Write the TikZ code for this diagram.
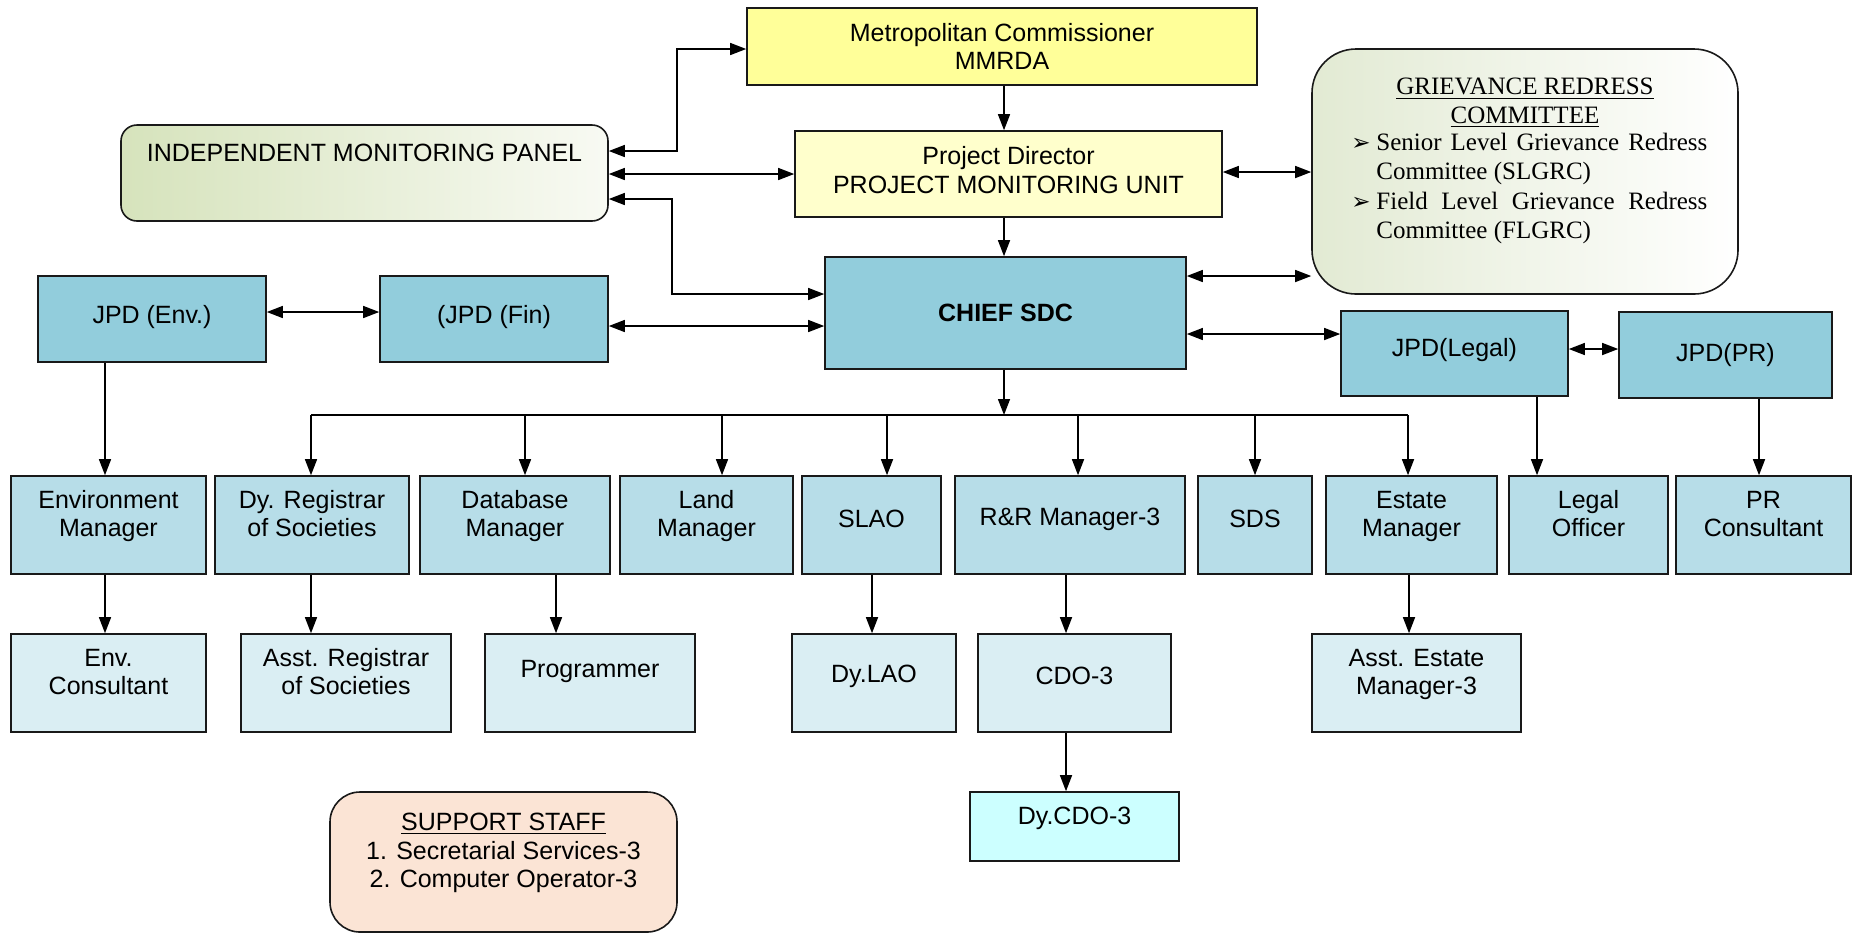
\documentclass[tikz,border=0pt]{standalone}
\usepackage{fontspec}
\setmainfont{Liberation Sans}
\newfontfamily\tnr{Liberation Serif}
\newfontfamily\djv{DejaVu Sans}
\usetikzlibrary{arrows.meta,fit}
\definecolor{mcY}{HTML}{FFFF99}
\definecolor{pdY}{HTML}{FFFFCC}
\definecolor{blA}{HTML}{92CDDC}
\definecolor{blB}{HTML}{B7DDE8}
\definecolor{blC}{HTML}{DAEEF3}
\definecolor{cyn}{HTML}{CCFFFF}
\definecolor{pch}{HTML}{FBE4D5}
\definecolor{gA}{HTML}{D6E3BC}
\definecolor{gB}{HTML}{F8FAF3}
\definecolor{gC}{HTML}{E2EAD3}
\tikzset{
  bx/.style={draw=black!90, line width=0.8pt, inner sep=0pt},
  tx/.style={align=center, font=\fontsize{12.5}{14.2}\selectfont, inner sep=0pt},
  ln/.style={line width=0.7pt},
  arr/.style={ln,-{Triangle[length=8pt,width=6pt]}},
  dbl/.style={ln,{Triangle[length=8pt,width=6pt]}-{Triangle[length=8pt,width=6pt]}},
  busln/.style={line width=1pt},
}
\newcommand\mkbox[6]{\node[bx,fill=#6,fit={(#2,#3)(#4,#5)}] (#1) {};}
\newcommand\grbul{\makebox[12.5pt][l]{\djv\fontsize{11.5}{11.5}\selectfont ➢}}
\begin{document}
\begin{tikzpicture}[x=0.5pt,y=-0.5pt]
\useasboundingbox (0,0) rectangle (1856,934);
% top boxes
\mkbox{mc}{747}{8}{1257}{85}{mcY}
\mkbox{pd}{795}{131}{1222}{217}{pdY}
\mkbox{chief}{825}{257}{1186}{369}{blA}
\node[bx,rounded corners=22pt,left color=gC,right color=white,fit={(1312,49)(1738,294)}] (grc) {};
\node[bx,rounded corners=8pt,left color=gA,right color=gB,fit={(121,125)(608,221)}] (imp) {};
\mkbox{jenv}{38}{276}{266}{362}{blA}
\mkbox{jfin}{380}{276}{608}{362}{blA}
\mkbox{jleg}{1341}{311}{1568}{396}{blA}
\mkbox{jpr}{1619}{312}{1832}{398}{blA}
% row 2
\mkbox{envm}{11}{476}{206}{574}{blB}
\mkbox{dyreg}{215}{476}{409}{574}{blB}
\mkbox{dbm}{420}{476}{610}{574}{blB}
\mkbox{landm}{620}{476}{793}{574}{blB}
\mkbox{slao}{802}{476}{941}{574}{blB}
\mkbox{rrm}{955}{476}{1185}{574}{blB}
\mkbox{sds}{1198}{476}{1312}{574}{blB}
\mkbox{estm}{1326}{476}{1497}{574}{blB}
\mkbox{legoff}{1509}{476}{1668}{574}{blB}
\mkbox{prcons}{1676}{476}{1851}{574}{blB}
% row 3
\mkbox{envc}{11}{634}{206}{732}{blC}
\mkbox{asreg}{241}{634}{451}{732}{blC}
\mkbox{prog}{485}{634}{695}{732}{blC}
\mkbox{dylao}{792}{634}{956}{732}{blC}
\mkbox{cdo}{978}{634}{1171}{732}{blC}
\mkbox{asest}{1312}{634}{1521}{732}{blC}
\mkbox{dycdo}{970}{792}{1179}{861}{cyn}
\node[bx,rounded corners=15pt,fill=pch,fit={(330,792)(677,932)}] (supp) {};
% texts
\node[tx] (mc-t) at (mc.center) {Metropolitan Commissioner\\MMRDA};
\node[tx] (pd-t) at ([yshift=2pt]pd.center) {Project Director\\PROJECT MONITORING UNIT};
\node[tx,font=\fontsize{12.5}{14.2}\selectfont\bfseries] (chief-t) at (chief.center) {CHIEF SDC};
\node[tx] (imp-t) at ([yshift=10pt]imp.center) {INDEPENDENT MONITORING PANEL};
\node[tx] (jenv-t) at ([yshift=1pt]jenv.center) {JPD (Env.)};
\node[tx] (jfin-t) at ([yshift=1pt]jfin.center) {(JPD (Fin)};
\node[tx] (jleg-t) at ([yshift=1.5pt]jleg.center) {JPD(Legal)};
\node[tx] (jpr-t) at (jpr.center) {JPD(PR)};
\node[tx] (envm-t) at ([yshift=4pt]envm.center) {Environment\strut\\Manager\strut};
\node[tx] (dyreg-t) at ([yshift=4pt]dyreg.center) {Dy. Registrar\strut\\of Societies\strut};
\node[tx] (dbm-t) at ([yshift=4pt]dbm.center) {Database\strut\\Manager\strut};
\node[tx] (landm-t) at ([yshift=4pt]landm.center) {Land\strut\\Manager\strut};
\node[tx] (slao-t) at ([yshift=3pt]slao.center) {SLAO};
\node[tx] (rrm-t) at ([yshift=3pt]rrm.center) {R\&R Manager-3};
\node[tx] (sds-t) at ([yshift=3pt]sds.center) {SDS};
\node[tx] (estm-t) at ([yshift=4pt]estm.center) {Estate\strut\\Manager\strut};
\node[tx] (legoff-t) at ([yshift=4pt]legoff.center) {Legal\strut\\Officer\strut};
\node[tx] (prcons-t) at ([yshift=4pt]prcons.center) {PR\strut\\Consultant\strut};
\node[tx] (envc-t) at ([yshift=4pt]envc.center) {Env.\strut\\Consultant\strut};
\node[tx] (asreg-t) at ([yshift=4pt]asreg.center) {Asst. Registrar\strut\\of Societies\strut};
\node[tx] (prog-t) at ([yshift=6pt]prog.center) {Programmer};
\node[tx] (dylao-t) at ([yshift=3.5pt]dylao.center) {Dy.LAO};
\node[tx] (cdo-t) at ([yshift=3.5pt]cdo.center) {CDO-3};
\node[tx] (asest-t) at ([yshift=4pt]asest.center) {Asst. Estate\strut\\Manager-3\strut};
\node[tx] (dycdo-t) at ([yshift=4pt]dycdo.center) {Dy.CDO-3};
\node[tx] (supp-t) at (503.5,853) {\underline{SUPPORT STAFF}\\1. Secretarial Services-3\\2. Computer Operator-3};
\node[tx,font=\tnr\fontsize{12.5}{14.4}\selectfont] (grc-t) at (1525,103) {\underline{GRIEVANCE REDRESS}\\\underline{COMMITTEE}};
\node[anchor=north west,text width=178pt,inner sep=0pt,align=justify,font=\tnr\fontsize{12.5}{14.6}\selectfont] (grc-l) at (1351,133) {\hyphenpenalty=10000%
\noindent\hangindent=12.5pt\hangafter=1\grbul Senior Level Grievance Redress Committee (SLGRC)\par
\noindent\hangindent=12.5pt\hangafter=1\grbul Field Level Grievance Redress Committee (FLGRC)\par};
% connectors
\draw[dbl] (imp.east |- 0,151) -| (677,49) -- (mc.west |- 0,49);
\draw[dbl] (imp.east |- 0,174) -- (pd.west |- 0,174);
\draw[dbl] (imp.east |- 0,199) -| (672,294) -- (chief.west |- 0,294);
\draw[dbl] (jenv.east |- 0,312) -- (jfin.west |- 0,312);
\draw[dbl] (jfin.east |- 0,326) -- (chief.west |- 0,326);
\draw[dbl] (pd.east |- 0,172) -- (grc.west |- 0,172);
\draw[dbl] (chief.east |- 0,276) -- (grc.west |- 0,276);
\draw[dbl] (chief.east |- 0,334) -- (jleg.west |- 0,334);
\draw[dbl] (jleg.east |- 0,349) -- (jpr.west |- 0,349);
\draw[arr] (1004,0 |- mc.south) -- (1004,0 |- pd.north);
\draw[arr] (1004,0 |- pd.south) -- (1004,0 |- chief.north);
\coordinate (busL) at (311,415);
\coordinate (busR) at (1408,415);
\draw[busln] (busL) -- (busR);
\draw[arr] (1004,0 |- chief.south) -- (1004,0 |- busL);
\foreach \x/\n in {311/dyreg,525/dbm,722/landm,887/slao,1078/rrm,1255/sds,1408/estm}
  \draw[arr] (\x,0 |- busL) -- (\x,0 |- \n.north);
\draw[arr] (105,0 |- jenv.south) -- (105,0 |- envm.north);
\draw[arr] (105,0 |- envm.south) -- (105,0 |- envc.north);
\draw[arr] (311,0 |- dyreg.south) -- (311,0 |- asreg.north);
\draw[arr] (556,0 |- dbm.south) -- (556,0 |- prog.north);
\draw[arr] (872,0 |- slao.south) -- (872,0 |- dylao.north);
\draw[arr] (1066,0 |- rrm.south) -- (1066,0 |- cdo.north);
\draw[arr] (1066,0 |- cdo.south) -- (1066,0 |- dycdo.north);
\draw[arr] (1409,0 |- estm.south) -- (1409,0 |- asest.north);
\draw[arr] (1537,0 |- jleg.south) -- (1537,0 |- legoff.north);
\draw[arr] (1759,0 |- jpr.south) -- (1759,0 |- prcons.north);
\end{tikzpicture}
\end{document}
